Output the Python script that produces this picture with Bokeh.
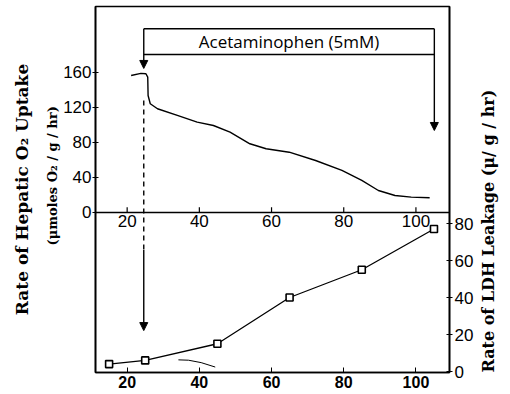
from bokeh.plotting import figure
from bokeh.models import Range1d, LinearAxis, FixedTicker, Span, Arrow, NormalHead, Label, Title
from bokeh.embed import file_html
from bokeh.resources import INLINE
from bokeh.core.properties import value

# ---- data ----
time_o2 = [21.1, 23.8, 25.2, 25.7, 25.8, 26.4, 28.4, 33.9, 39.4, 43.9, 48.5, 54.0,
           58.5, 64.9, 72.2, 79.5, 85.0, 89.6, 94.2, 98.7, 103.8]
o2_uptake = [156.6, 159.0, 158.5, 154.7, 133.7, 124.2, 118.5, 110.9, 103.2, 99.4, 91.8, 78.5,
             72.8, 68.9, 59.4, 48.0, 36.6, 25.1, 19.4, 17.5, 16.8]
time_ldh = [15, 25, 45, 65, 85, 105]
ldh_leak = [4, 6, 15, 40, 55, 77]
stray_x = [34.2, 37.0, 40.5, 44.4]
stray_y = [6.3, 6.1, 4.8, 2.4]
x_ticks = [20, 40, 60, 80, 100]
o2_ticks = [0, 40, 80, 120, 160]
ldh_ticks = [0, 20, 40, 60, 80]
dose_start = 24.6
dose_end = 105.1
dose_label = "Acetaminophen (5mM)"
left_title_1 = "Rate of Hepatic O\u2082 Uptake"
left_title_2 = "(\u03bcmoles O\u2082 / g / hr)"
right_title = "Rate of LDH Leakage (\u03bc/ g / hr)"

W, H = 510, 394
p = figure(width=W, height=H, output_backend="svg", toolbar_location=None,
           x_range=Range1d(11.23, 109.3), y_range=Range1d(-182.9, 235.4),
           min_border_left=94, min_border_right=58, min_border_top=6, min_border_bottom=22)
p.extra_y_ranges = {"ldh": Range1d(-0.54, 197.3)}
p.grid.visible = False
p.outline_line_color = "black"
p.outline_line_width = 1.6
p.background_fill_color = "white"
p.border_fill_color = "white"

tick_font = "Liberation Sans"
title_font = "DejaVu Serif"

# bottom axis
xa = p.xaxis[0]
xa.ticker = FixedTicker(ticks=x_ticks)
xa.major_tick_in = 5
xa.major_tick_out = 0
xa.minor_tick_line_color = None
xa.axis_line_width = 1.6
xa.major_label_standoff = 3
xa.major_label_text_font = tick_font
xa.major_label_text_font_size = "16px"
xa.major_label_text_font_style = "bold"
xa.major_label_text_color = "black"

# left axis
ya = p.yaxis[0]
ya.ticker = FixedTicker(ticks=o2_ticks)
ya.major_tick_in = 3
ya.major_tick_out = 3
ya.minor_tick_line_color = None
ya.axis_line_width = 1.6
ya.major_label_standoff = 1
ya.major_label_text_font = tick_font
ya.major_label_text_font_size = "17px"
ya.major_label_text_color = "black"

# two-line left title
p.add_layout(Title(text=left_title_2, align="left", offset=127, vertical_align="middle",
                   standoff=0, text_font=title_font, text_font_style="bold",
                   text_font_size="13px", text_color="black"), "left")
p.add_layout(Title(text=left_title_1, align="center", vertical_align="middle", standoff=21,
                   text_font=title_font, text_font_style="bold", text_font_size="17px",
                   text_color="black"), "left")

# right axis
ra = LinearAxis(y_range_name="ldh", ticker=FixedTicker(ticks=ldh_ticks))
ra.major_tick_in = 3
ra.major_tick_out = 3
ra.minor_tick_line_color = None
ra.axis_line_width = 1.6
ra.major_label_standoff = 2
ra.major_label_text_font = tick_font
ra.major_label_text_font_size = "17px"
ra.major_label_text_color = "black"
ra.axis_label = right_title
ra.axis_label_standoff = 12
ra.axis_label_text_font = title_font
ra.axis_label_text_font_style = "bold"
ra.axis_label_text_font_size = "16px"
ra.axis_label_text_color = "black"
try:
    ra.axis_label_orientation = 1.5708
except Exception:
    pass
try:
    ra.axis_label_align = "start"
except Exception:
    pass
p.add_layout(ra, "right")

# middle axis line (zero of O2 uptake) with its ticks and labels
p.add_layout(Span(location=0, dimension="width", line_color="black", line_width=1.6))
p.segment(x0=x_ticks, y0=[0] * 5, x1=x_ticks, y1=[6] * 5, line_color="black", line_width=1.2)
p.text(x=x_ticks, y=[0] * 5, text=[str(t) for t in x_ticks], y_offset=3,
       text_align="center", text_baseline="top", text_font=value(tick_font),
       text_font_size="17px", text_color="black")

# O2 uptake curve
p.line(time_o2, o2_uptake, line_color="black", line_width=1.4)

# LDH leakage series
p.line(time_ldh, ldh_leak, y_range_name="ldh", line_color="black", line_width=1.3)
p.scatter(time_ldh, ldh_leak, y_range_name="ldh", marker="square", size=7,
          fill_color="white", line_color="black", line_width=1.6)
p.line(stray_x, stray_y, y_range_name="ldh", line_color="black", line_width=1)

# acetaminophen bracket
p.segment(x0=[dose_start, dose_start], y0=[210, 180.6], x1=[dose_end, dose_end], y1=[210, 180.6],
          line_color="black", line_width=1.4)
p.add_layout(Arrow(end=NormalHead(size=8, fill_color="black", line_color="black"),
                   x_start=dose_start, y_start=210, x_end=dose_start, y_end=164.6,
                   line_color="black", line_width=1.4))
p.add_layout(Arrow(end=NormalHead(size=8, fill_color="black", line_color="black"),
                   x_start=dose_end, y_start=210, x_end=dose_end, y_end=93.7,
                   line_color="black", line_width=1.4))
p.add_layout(Label(x=(dose_start + dose_end) / 2, y=195.3, text=dose_label,
                   text_align="center", text_baseline="middle", text_font="Open Sans",
                   text_font_size="17px", text_color="black"))

# dashed drop line and arrow into lower panel
p.line([dose_start, dose_start], [128, -43], line_color="black", line_width=1.4, line_dash="5 4")
p.add_layout(Arrow(end=NormalHead(size=8, fill_color="black", line_color="black"),
                   x_start=dose_start, y_start=-43, x_end=dose_start, y_end=-135,
                   line_color="black", line_width=1.4))

open("out.html", "w").write(file_html(p, INLINE))
